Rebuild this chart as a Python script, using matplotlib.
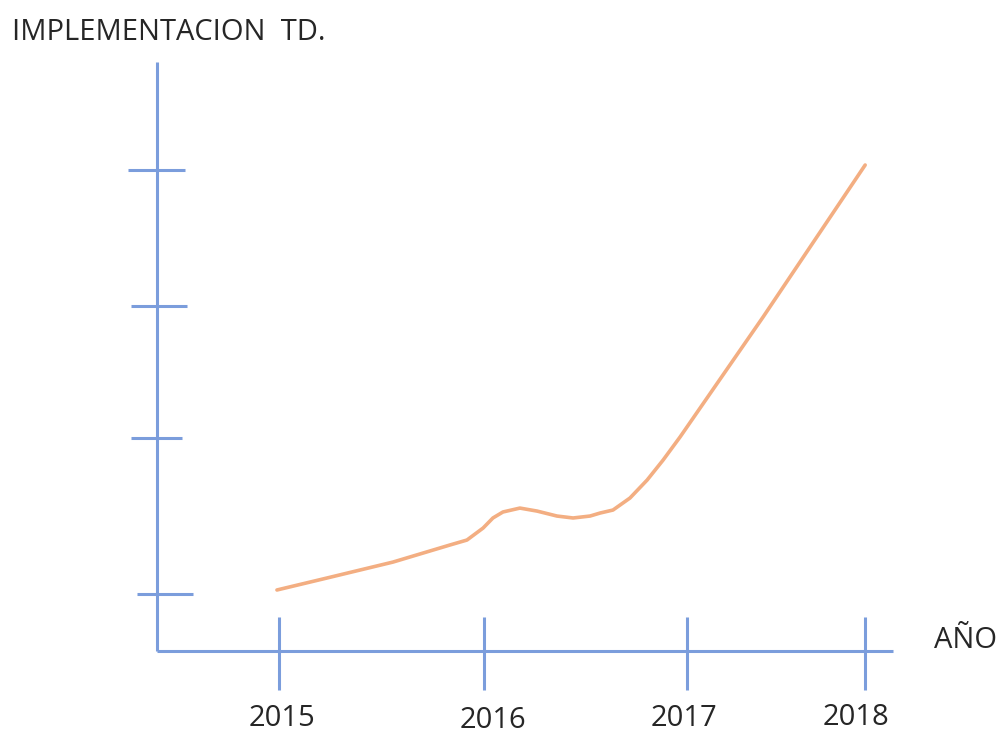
import matplotlib
matplotlib.use("Agg")
import matplotlib.pyplot as plt

# curve (x in years, y in drawn levels)
curve_x = [2014.99, 2015.235, 2015.557, 2015.836, 2015.919, 2015.998, 2016.046,
           2016.095, 2016.178, 2016.262, 2016.359, 2016.438, 2016.521, 2016.57,
           2016.633, 2016.716, 2016.80, 2016.878, 2016.961, 2017.367, 2017.866]
curve_y = [0.407, 0.487, 0.593, 0.707, 0.74, 0.82, 0.887,
           0.927, 0.953, 0.933, 0.90, 0.887, 0.90, 0.92,
           0.94, 1.02, 1.14, 1.273, 1.427, 2.227, 3.24]

years = ["2015", "2016", "2017", "2018"]
year_pos = [2015.0, 2016.002, 2016.995, 2017.866]
label_pos = [2015.015, 2016.046, 2016.98, 2017.82]
label_y = [-0.45, -0.46, -0.45, -0.44]

# y tick marks, bottom to top
level_pos = [0.38, 1.42, 2.30, 3.207]
level_left = [2014.306, 2014.276, 2014.276, 2014.262]
level_right = [2014.579, 2014.526, 2014.55, 2014.54]

blue = "#7b9ddc"
orange = "#f3ae82"
txt = "#262626"
font = ["Open Sans", "DejaVu Sans"]

fig = plt.figure(figsize=(10.02, 7.34), dpi=100)
ax = fig.add_axes([0, 0, 1, 1])
ax.set_xlim(2013.636, 2018.535)
ax.set_ylim(-0.553, 4.34)
ax.axis("off")

y_axis_x = 2014.403
ax.plot([y_axis_x, y_axis_x], [0, 3.927], color=blue, lw=2.2, solid_capstyle="butt")
ax.plot([y_axis_x, 2018.002], [0, 0], color=blue, lw=2.2, solid_capstyle="butt")

for y, x0, x1 in zip(level_pos, level_left, level_right):
    ax.plot([x0, x1], [y, y], color=blue, lw=2.2, solid_capstyle="butt")

for x in year_pos:
    ax.plot([x, x], [-0.26, 0.227], color=blue, lw=2.2, solid_capstyle="butt")

for lx, ly, lab in zip(label_pos, label_y, years):
    ax.text(lx, ly, lab, ha="center", va="center", fontsize=21,
            color=txt, family=font)

ax.plot(curve_x, curve_y, color=orange, lw=2.6, solid_joinstyle="round",
        solid_capstyle="round")

fig.text(0.012, 1 - 32 / 734, "IMPLEMENTACION  TD.", ha="left", va="center",
         fontsize=21, color=txt, family=font)
fig.text(0.932, 1 - 641 / 734, "AÑO", ha="left", va="center",
         fontsize=21, color=txt, family=font)

fig.savefig("out.png", dpi=100)
